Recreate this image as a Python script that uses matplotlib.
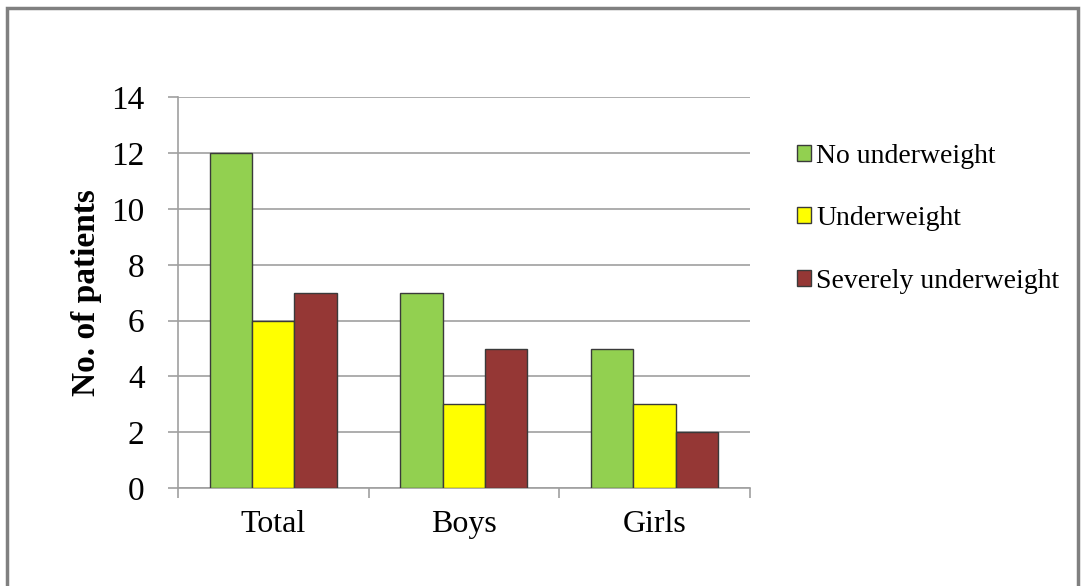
import numpy as np
import matplotlib.pyplot as plt
from matplotlib.patches import Rectangle

groups = ['Total', 'Boys', 'Girls']
series = ['No underweight', 'Underweight', 'Severely underweight']
no_under = [12, 7, 5]
under = [6, 3, 3]
severe = [7, 5, 2]
colors = ['#92d050', '#ffff00', '#953735']

plt.rcParams['font.family'] = ['Liberation Serif', 'DejaVu Serif']

fig = plt.figure(figsize=(10.85, 5.86), dpi=100)
fig.patches.append(Rectangle((0.006, -0.01), 0.988, 0.997, transform=fig.transFigure,
                             fill=False, edgecolor='#808080', linewidth=2.5))
ax = fig.add_axes([0.164, 0.167, 0.527, 0.667])

x = np.arange(len(groups))
w = 0.222
for i, (vals, c, name) in enumerate(zip([no_under, under, severe], colors, series)):
    ax.bar(x + (i - 1) * w, vals, w, color=c, edgecolor='#3a3a3a', linewidth=1.0,
           label=name, zorder=3)

ax.set_xlim(-0.5, 2.5)
ax.set_ylim(0, 14)
ax.set_yticks(range(0, 15, 2))
ax.set_xticks(x)
ax.set_xticklabels(groups, fontsize=23)
ax.set_xticks([-0.5, 0.5, 1.5, 2.5], minor=True)
ax.tick_params(axis='x', which='major', length=0, pad=16)
ax.tick_params(axis='x', which='minor', length=7, width=1.2, color='#a0a0a0', direction='out')
ax.tick_params(axis='y', length=7, width=1.2, color='#a0a0a0', labelsize=24, pad=17)
ax.grid(axis='y', color='#a0a0a0', linewidth=1.2, zorder=0)
for s in ['top', 'right']:
    ax.spines[s].set_visible(False)
for s in ['left', 'bottom']:
    ax.spines[s].set_color('#a0a0a0')
    ax.spines[s].set_linewidth(1.2)

ax.set_ylabel('No. of patients', fontsize=24, fontweight='bold', labelpad=7)

ax.legend(loc='upper left', bbox_to_anchor=(1.063, 0.91), frameon=False, fontsize=20,
          handlelength=0.5, handleheight=0.5, handletextpad=0.2, labelspacing=1.35,
          borderaxespad=0)

fig.savefig('out.png', dpi=100)
